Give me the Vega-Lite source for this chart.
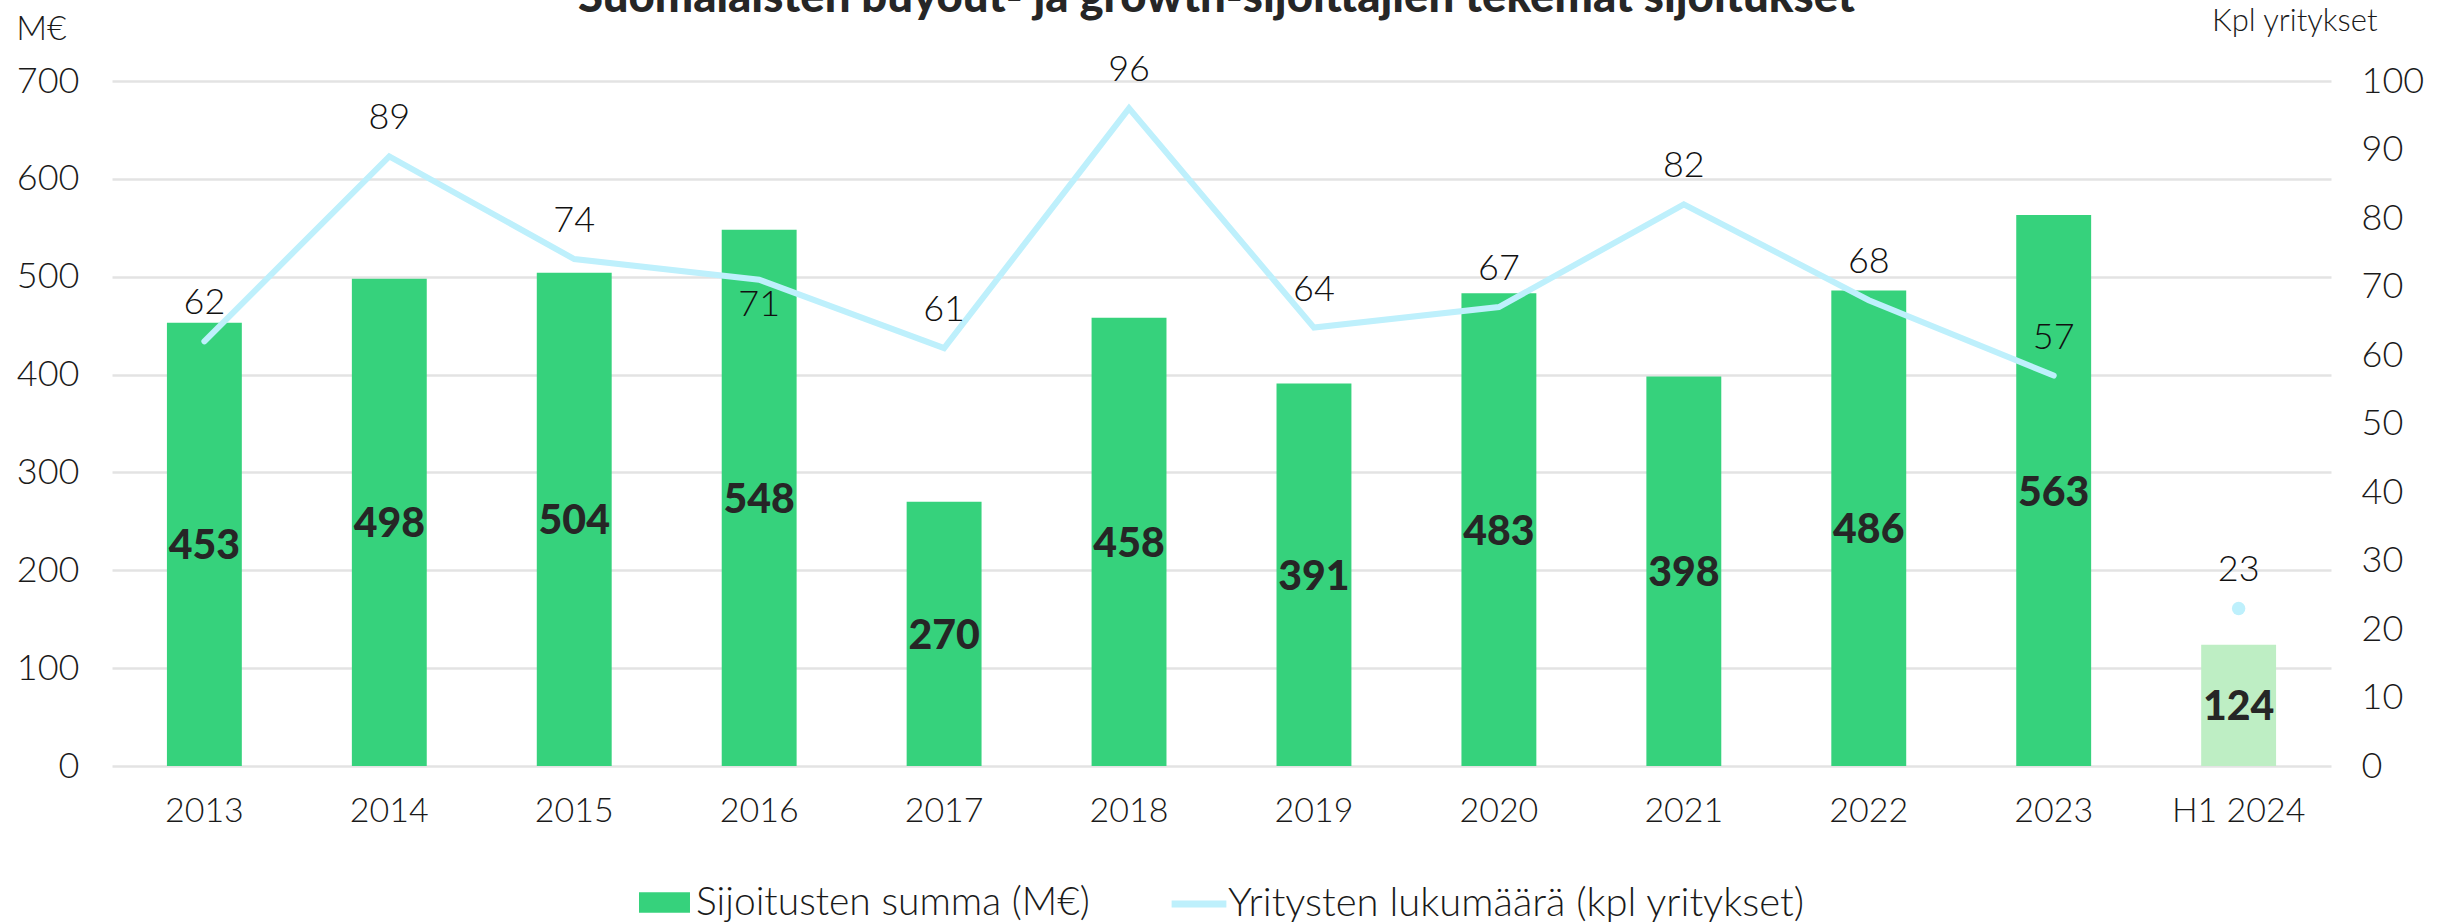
{"$schema":"https://vega.github.io/schema/vega-lite/v6.json","width":2219,"height":685,"autosize":{"type":"none"},"padding":{"left":112,"top":81,"right":120,"bottom":156},"background":"white","title":{"text":"Suomalaisten buyout- ja growth-sijoittajien tekemät sijoitukset","anchor":"middle","frame":"group","orient":"top","offset":-16,"dx":-5,"fontSize":45.5,"font":"Lato","fontWeight":900,"color":"#262626"},"config":{"view":{"stroke":null},"font":"Lato","axis":{"labelFont":"Lato","labelFontWeight":300,"labelColor":"#1a1a1a","titleFont":"Lato","titleFontWeight":300,"titleColor":"#1a1a1a"},"legend":{"labelFont":"Lato","labelFontWeight":300,"labelColor":"#1a1a1a"}},"data":{"values":[{"kausi":"2013","summa":453,"yritykset":62,"sarja":"Sijoitusten summa (M€)"},{"kausi":"2014","summa":498,"yritykset":89,"sarja":"Sijoitusten summa (M€)"},{"kausi":"2015","summa":504,"yritykset":74,"sarja":"Sijoitusten summa (M€)"},{"kausi":"2016","summa":548,"yritykset":71,"sarja":"Sijoitusten summa (M€)"},{"kausi":"2017","summa":270,"yritykset":61,"sarja":"Sijoitusten summa (M€)"},{"kausi":"2018","summa":458,"yritykset":96,"sarja":"Sijoitusten summa (M€)"},{"kausi":"2019","summa":391,"yritykset":64,"sarja":"Sijoitusten summa (M€)"},{"kausi":"2020","summa":483,"yritykset":67,"sarja":"Sijoitusten summa (M€)"},{"kausi":"2021","summa":398,"yritykset":82,"sarja":"Sijoitusten summa (M€)"},{"kausi":"2022","summa":486,"yritykset":68,"sarja":"Sijoitusten summa (M€)"},{"kausi":"2023","summa":563,"yritykset":57,"sarja":"Sijoitusten summa (M€)"},{"kausi":"H1 2024","summa":124,"yritykset":23,"sarja":"H1 2024"}]},"encoding":{"x":{"field":"kausi","type":"nominal","sort":null,"scale":{"paddingInner":0.595,"paddingOuter":0.297},"axis":{"title":null,"labelAngle":0,"labelFontSize":34,"labelPadding":28,"ticks":false,"domain":false,"grid":false,"labelColor":"#1a1a1a"}}},"layer":[{"layer":[{"mark":{"type":"bar"},"encoding":{"y":{"field":"summa","type":"quantitative","scale":{"domain":[0,700]},"axis":{"title":"M€","titleAngle":0,"titleFontSize":34,"titleX":-71,"titleY":-35,"titleAlign":"center","values":[0,100,200,300,400,500,600,700],"labelFontSize":36,"labelPadding":33,"ticks":false,"domain":false,"grid":true,"gridColor":"#E3E3E3","gridWidth":2.5}},"fill":{"field":"sarja","type":"nominal","scale":{"domain":["Sijoitusten summa (M€)","H1 2024"],"range":["#36D27C","#BEEEC4"]},"legend":{"values":["Sijoitusten summa (M€)"],"title":null,"orient":"none","legendX":526,"legendY":795,"symbolType":"M-1,-0.4H1V0.4H-1Z","symbolSize":2600,"labelFontSize":39,"labelOffset":5,"labelLimit":700}}}},{"transform":[{"calculate":"datum.summa/2","as":"keski"}],"mark":{"type":"text","font":"Lato","fontWeight":900,"fontSize":41,"dy":3,"color":"#262626"},"encoding":{"y":{"field":"keski","type":"quantitative"},"text":{"field":"summa","type":"quantitative"}}}]},{"layer":[{"transform":[{"filter":"datum.kausi != 'H1 2024'"}],"mark":{"type":"line","strokeWidth":6,"strokeCap":"round"},"encoding":{"y":{"field":"yritykset","type":"quantitative","scale":{"domain":[0,100]},"axis":{"title":"Kpl yritykset","titleAngle":0,"titleFontSize":31,"titleX":46,"titleY":-44,"titleAlign":"right","values":[0,10,20,30,40,50,60,70,80,90,100],"labelFontSize":36,"labelPadding":30,"ticks":false,"domain":false,"grid":false,"orient":"right"}},"stroke":{"datum":"Yritysten lukumäärä (kpl yritykset)","scale":{"domain":["Yritysten lukumäärä (kpl yritykset)"],"range":["#BEF0FC"]},"legend":{"title":null,"orient":"none","legendX":1056,"legendY":792,"symbolType":"stroke","symbolSize":3000,"symbolStrokeWidth":7,"labelFontSize":40,"labelOffset":-2,"labelLimit":700}}}},{"transform":[{"filter":"datum.kausi == 'H1 2024'"}],"mark":{"type":"point","filled":true,"size":180,"color":"#BEF0FC","opacity":1},"encoding":{"y":{"field":"yritykset","type":"quantitative"}}},{"transform":[{"filter":"datum.yritykset != 71"}],"mark":{"type":"text","baseline":"bottom","dy":-19,"fontSize":36,"font":"Lato","fontWeight":300,"color":"#111111"},"encoding":{"y":{"field":"yritykset","type":"quantitative"},"text":{"field":"yritykset","type":"quantitative"}}},{"transform":[{"filter":"datum.yritykset == 71"}],"mark":{"type":"text","baseline":"top","dy":8,"fontSize":36,"font":"Lato","fontWeight":300,"color":"#111111"},"encoding":{"y":{"field":"yritykset","type":"quantitative"},"text":{"field":"yritykset","type":"quantitative"}}}]}],"resolve":{"scale":{"y":"independent"}}}
